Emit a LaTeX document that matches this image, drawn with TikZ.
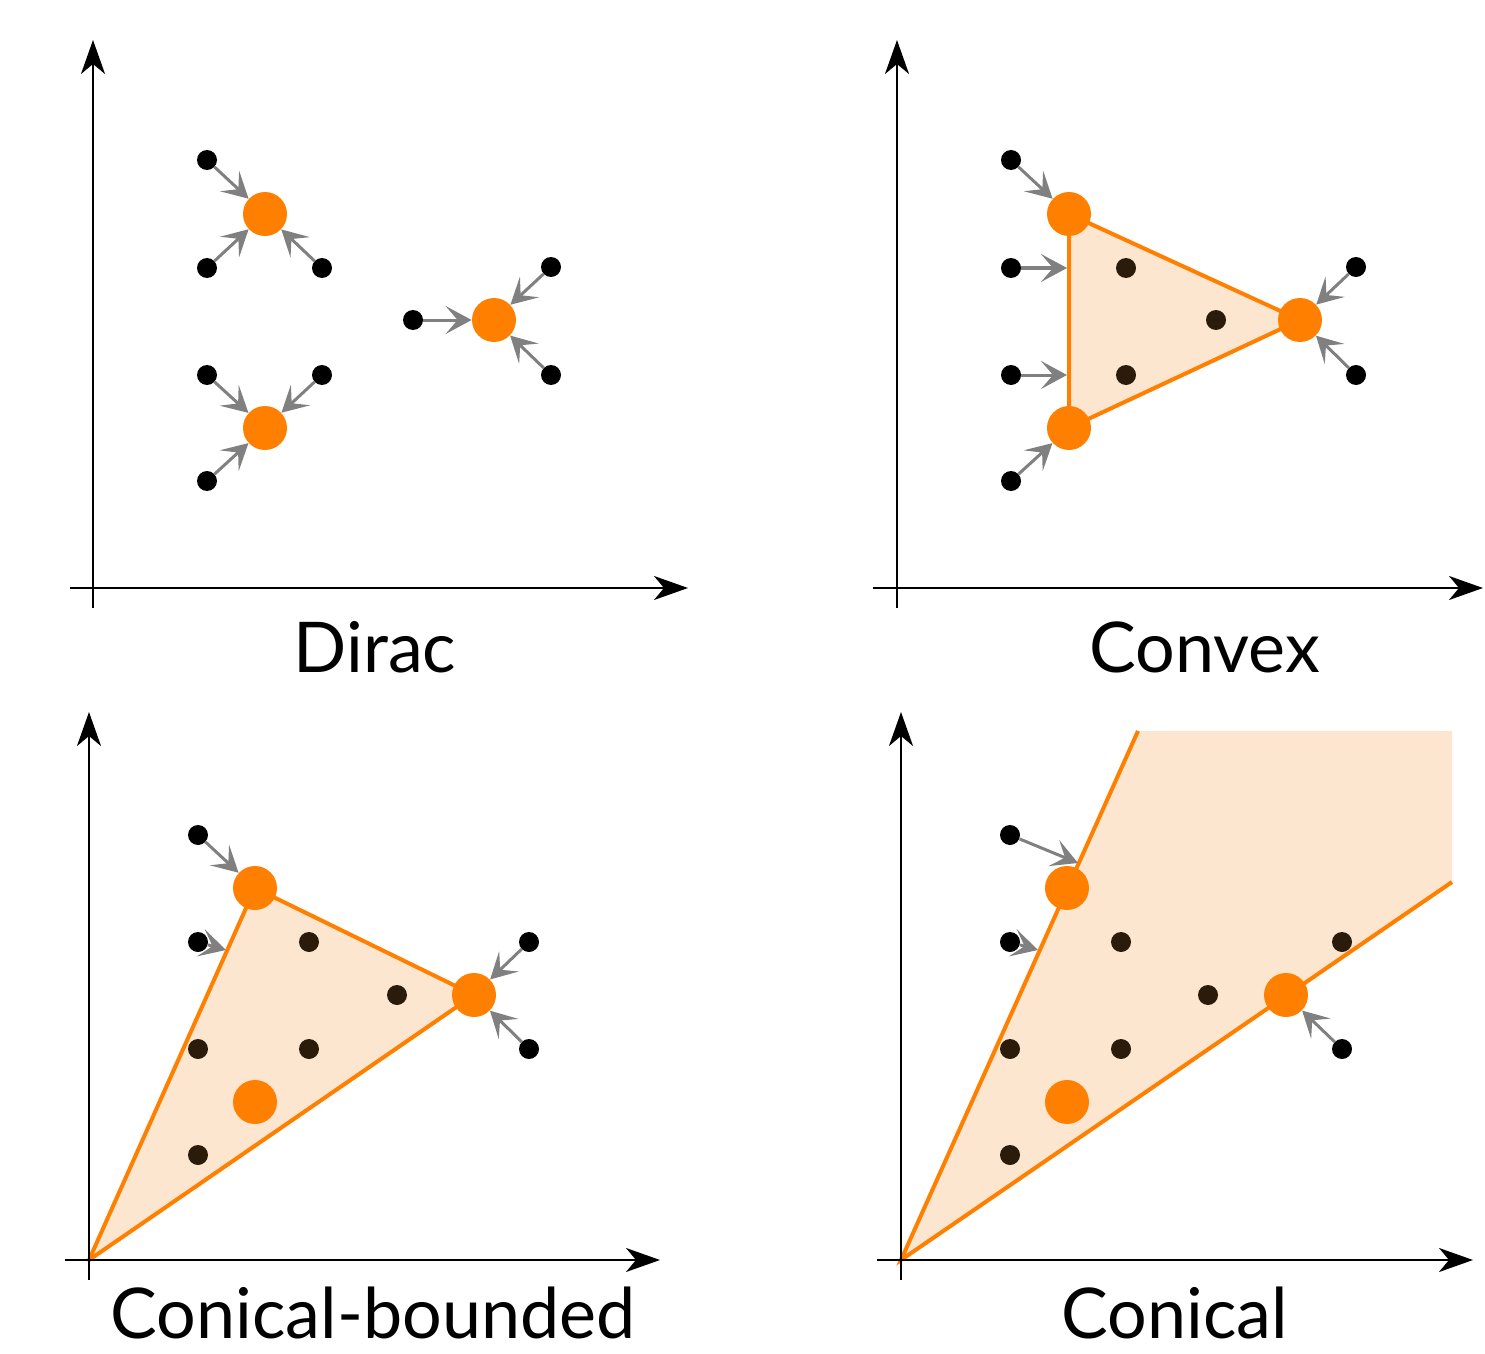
\documentclass[tikz,border=0pt]{standalone}
\usepackage{fontspec}
\setmainfont{Lato}
\usetikzlibrary{arrows.meta}
\definecolor{conorange}{HTML}{FF8000}
\definecolor{conlight}{HTML}{FDE6CF}
\definecolor{condark}{HTML}{2B1B0B}
\begin{document}
\begin{tikzpicture}[
        x=0.5pt, y=-0.5pt,
        axis/.style={line width=1pt, -{Stealth[length=17pt, width=12pt, inset=5pt]}},
        centre/.style={circle, fill=conorange, minimum size=22pt, inner sep=0pt},
        sample/.style={circle, fill=black, minimum size=10pt, inner sep=0pt},
        inside/.style={circle, fill=condark, minimum size=10pt, inner sep=0pt},
        pull/.style={draw=gray, line width=1.5pt, -{Stealth[length=13pt, width=14pt, inset=6pt]}},
        hull/.style={draw=conorange, line width=2pt, fill=conlight, line join=round},
        border/.style={draw=conorange, line width=2pt},
        caption/.style={font=\fontsize{35}{40}\selectfont, anchor=base, inner sep=0pt}
    ]
    \useasboundingbox (0,0) rectangle (1485,1354);

    \draw[axis] (93,608) -- (93,40);
    \draw[axis] (70,588) -- (688,588);
    \node[caption] (dirac) at (375,672) {Dirac};
    \node[centre] (da) at (265,214) {};
    \node[centre] (db) at (265,428) {};
    \node[centre] (dc) at (494,320) {};
    \node[sample] (da1) at (207,160) {};
    \node[sample] (da2) at (207,268) {};
    \node[sample] (da3) at (322,268) {};
    \node[sample] (db1) at (207,375) {};
    \node[sample] (db2) at (322,375) {};
    \node[sample] (db3) at (207,481) {};
    \node[sample] (dc1) at (413,320) {};
    \node[sample] (dc2) at (551,267) {};
    \node[sample] (dc3) at (551,375) {};
    \foreach \s/\t in {da1/da, da2/da, da3/da, db1/db, db2/db, db3/db, dc1/dc, dc2/dc, dc3/dc}
        \draw[pull] (\s) -- (\t);

    \coordinate (vp) at (1069,214);
    \coordinate (vq) at (1069,428);
    \coordinate (vr) at (1300,320);
    \filldraw[hull] (vp) -- (vr) -- (vq) -- cycle;
    \draw[axis] (897,608) -- (897,40);
    \draw[axis] (873,588) -- (1483,588);
    \node[caption] (convex) at (1205,672) {Convex};
    \node[centre] (va) at (vp) {};
    \node[centre] (vb) at (vq) {};
    \node[centre] (vc) at (vr) {};
    \node[inside] (vi1) at (1126,268) {};
    \node[inside] (vi2) at (1216,320) {};
    \node[inside] (vi3) at (1126,375) {};
    \coordinate (ve1) at (1067,268);
    \coordinate (ve2) at (1067,375);
    \node[sample] (v1) at (1011,160) {};
    \node[sample] (v2) at (1011,268) {};
    \node[sample] (v3) at (1011,375) {};
    \node[sample] (v4) at (1011,481) {};
    \node[sample] (v5) at (1356,267) {};
    \node[sample] (v6) at (1356,375) {};
    \foreach \s/\t in {v1/va, v2/ve1, v3/ve2, v4/vb, v5/vc, v6/vc}
        \draw[pull] (\s) -- (\t);

    \coordinate (k0) at (89,1260);
    \coordinate (kp) at (255,888);
    \coordinate (kq) at (474,995);
    \filldraw[hull] (k0) -- (kp) -- (kq) -- cycle;
    \draw[axis] (89,1280) -- (89,712);
    \draw[axis] (65,1260) -- (660,1260);
    \node[caption] (bounded) at (373,1338) {Conical-bounded};
    \node[centre] (ka) at (kp) {};
    \node[centre] (kb) at (kq) {};
    \node[centre] (kc) at (255,1102) {};
    \node[inside] (ki1) at (309,942) {};
    \node[inside] (ki2) at (397,995) {};
    \node[inside] (ki3) at (198,1049) {};
    \node[inside] (ki4) at (309,1049) {};
    \node[inside] (ki5) at (198,1155) {};
    \coordinate (ke1) at (226,950);
    \node[sample] (k1) at (198,835) {};
    \node[sample] (k2) at (198,942) {};
    \node[sample] (k3) at (529,942) {};
    \node[sample] (k4) at (529,1049) {};
    \foreach \s/\t in {k1/ka, k2/ke1, k3/kb, k4/kb}
        \draw[pull] (\s) -- (\t);

    \coordinate (n0) at (901,1260);
    \coordinate (np) at (1138,731);
    \coordinate (nq) at (1452,731);
    \coordinate (nr) at (1452,882);
    \fill[conlight] (n0) -- (np) -- (nq) -- (nr) -- cycle;
    \draw[border] (np) -- (n0) -- (nr);
    \draw[axis] (901,1280) -- (901,712);
    \draw[axis] (877,1260) -- (1473,1260);
    \node[caption] (conical) at (1175,1338) {Conical};
    \node[centre] (na) at (1067,888) {};
    \node[centre] (nb) at (1286,995) {};
    \node[centre] (nc) at (1067,1102) {};
    \node[inside] (ni1) at (1121,942) {};
    \node[inside] (ni2) at (1208,995) {};
    \node[inside] (ni3) at (1342,942) {};
    \node[inside] (ni4) at (1010,1049) {};
    \node[inside] (ni5) at (1121,1049) {};
    \node[inside] (ni6) at (1010,1155) {};
    \coordinate (ne1) at (1078,863);
    \coordinate (ne2) at (1038,950);
    \node[sample] (n1) at (1010,835) {};
    \node[sample] (n2) at (1010,942) {};
    \node[sample] (n3) at (1342,1049) {};
    \foreach \s/\t in {n1/ne1, n2/ne2, n3/nb}
        \draw[pull] (\s) -- (\t);
\end{tikzpicture}
\end{document}
